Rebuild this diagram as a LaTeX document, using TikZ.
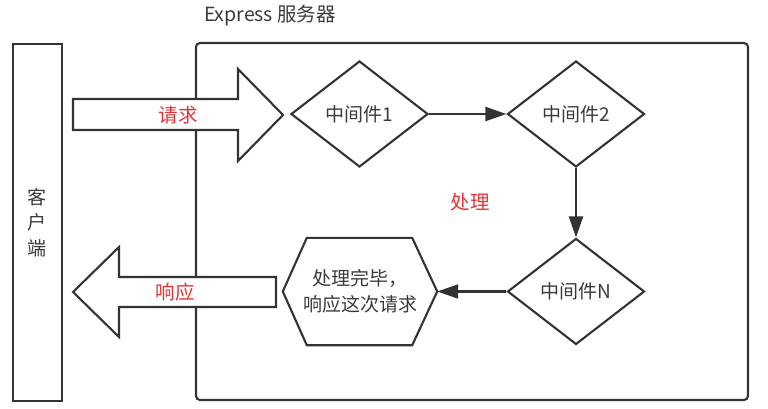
\documentclass[tikz,border=0pt]{standalone}
\usepackage{fontspec}
\setmainfont{Noto Sans CJK SC}
\usetikzlibrary{shapes.geometric,arrows.meta,calc}
\definecolor{ln}{HTML}{333333}
\definecolor{tx}{HTML}{3A3A3A}
\definecolor{rd}{HTML}{E3343A}
\tikzset{
  box/.style={draw=ln,line width=2.1pt},
  mid/.style={diamond,draw=ln,line width=2.1pt,fill=white,minimum width=137pt,minimum height=106pt,inner sep=0pt,text=tx,font=\fontsize{19}{22}\selectfont},
  lbl/.style={text=tx,font=\fontsize{19}{25.5}\selectfont,inner sep=0pt},
  redlbl/.style={text=rd,font=\fontsize{19.5}{22}\selectfont,inner sep=0pt},
  flow/.style={draw=ln,line width=2.1pt,-{Triangle[length=21pt,width=14pt]}},
  bigarrow/.style={draw=ln,line width=2.1pt,fill=white,line join=miter}
}
\begin{document}
\begin{tikzpicture}[x=1pt,y=-1pt]
\useasboundingbox (0,0) rectangle (768,409);
% title
\node[lbl,font=\fontsize{19.5}{22}\selectfont] (title) at (270,16) {Express 服务器};
% server box
\draw[box,rounded corners=4pt] (196,43) rectangle (748,400);
% client box
\node[box,minimum width=49.5pt,minimum height=357pt,inner sep=0pt,anchor=north west] (client) at (11.5,43) {};
\node[lbl,align=center] (clienttext) at (client.center) {客\\户\\端};
% request arrow
\draw[bigarrow] (73,99) -- (238,99) -- (238,69) -- (283,115) -- (238,161) -- (238,130) -- (73,130) -- cycle;
\node[redlbl] (req) at (178,115) {请求};
% response arrow
\draw[bigarrow] (276,277) -- (119,277) -- (119,247) -- (73,292) -- (119,337) -- (119,307) -- (276,307) -- cycle;
\node[redlbl] (resp) at (175,292) {响应};
% middlewares
\node[mid] (m1) at (359.5,114) {中间件1};
\node[mid] (m2) at (576,114) {中间件2};
\node[mid] (mn) at (576,291.5) {中间件N};
% hexagon
\node[lbl,align=center,minimum width=154pt,minimum height=107pt] (hex) at (360,291.5) {处理完毕，\\响应这次请求};
\draw[box,line join=miter] (hex.west) -- ($(hex.north west)+(24,0)$) -- ($(hex.north east)+(-25,0)$) -- (hex.east) -- ($(hex.south east)+(-25,0)$) -- ($(hex.south west)+(24,0)$) -- cycle;
\node[redlbl] (proc) at (470,202) {处理};
% connectors
\draw[flow] (m1.east) -- (m2.west);
\draw[flow] (m2.south) -- (mn.north);
\draw[flow] (mn.west) -- (hex.east);
\end{tikzpicture}
\end{document}
